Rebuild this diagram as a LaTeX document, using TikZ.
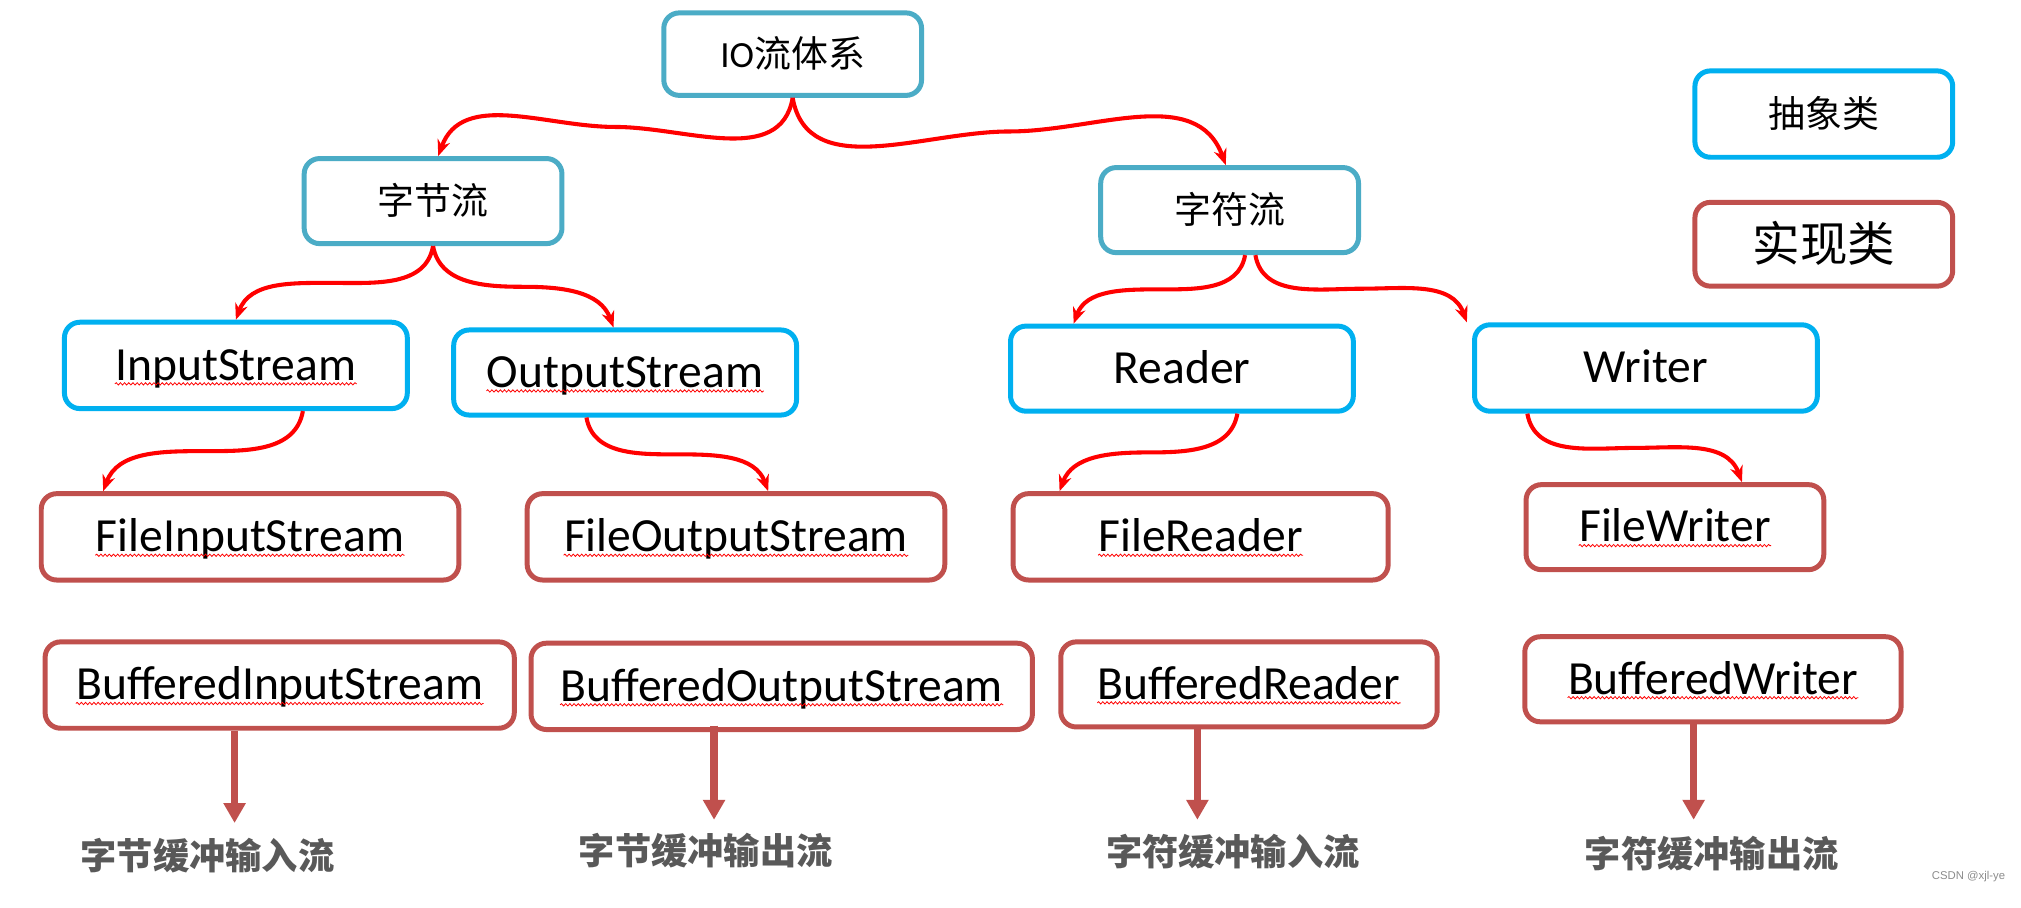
\documentclass[tikz,border=0pt]{standalone}
\usepackage{fontspec}
\setmainfont{Carlito}
\newfontfamily\cjk{Noto Sans CJK SC}
\newfontfamily\wmfont{Liberation Sans}
\usetikzlibrary{arrows.meta,calc,decorations.pathmorphing}
\definecolor{topc}{HTML}{4BACC6}
\definecolor{absc}{HTML}{00B0F0}
\definecolor{implc}{HTML}{C0504D}
\definecolor{arrc}{HTML}{FF0000}
\definecolor{labc}{HTML}{595959}
\definecolor{wmc}{HTML}{8C8C8C}
\tikzset{
  bx/.style 2 args={draw, line width=2.2pt, rounded corners=0.24cm, fill=white, inner sep=0pt,
    minimum width=#1*0.02cm, minimum height=#2*0.02cm},
  topbox/.style={draw=topc},
  absbox/.style={draw=absc},
  implbox/.style={draw=implc},
  lat/.style={inner sep=0pt, anchor=base, font=\fontsize{21pt}{25pt}\selectfont},
  cj/.style={inner sep=0pt, anchor=base, font=\cjk\fontsize{16.3pt}{20pt}\selectfont},
  cjbig/.style={inner sep=0pt, anchor=base, font=\cjk\fontsize{21pt}{25pt}\selectfont},
  lab/.style={inner sep=0pt, anchor=base, text=labc, font=\cjk\bfseries\fontsize{16pt}{20pt}\selectfont},
  rarr/.style={draw=arrc, line width=1.8pt, -{Stealth[length=0.25cm, width=0.2cm]}},
  barr/.style={draw=implc, line width=3.4pt, -{Triangle[length=0.31cm, width=0.33cm]}},
  squig/.style={draw=arrc, line width=0.35pt, decorate,
    decoration={snake, segment length=0.065cm, amplitude=0.018cm}},
}
\begin{document}
\begin{tikzpicture}[x=0.02cm, y=0.02cm]
\fill[white] (0,0) rectangle (1568,-703.7);
\useasboundingbox (0,0) rectangle (1568,-703.7);

% boxes
\node[bx={200}{64}, topbox] (io) at (615,-42) {};
\node[bx={200}{67}, absbox] (abs) at (1415,-88.5) {};
\node[bx={200}{65}, implbox] (impl) at (1415,-189.5) {};
\node[bx={200}{66}, topbox] (byte) at (336,-156) {};
\node[bx={200}{66}, topbox] (char) at (954,-163) {};
\node[bx={266}{67}, absbox] (is) at (183,-283.5) {};
\node[bx={266}{66}, absbox] (os) at (485,-289) {};
\node[bx={266}{66}, absbox] (rd) at (917,-286) {};
\node[bx={266}{67}, absbox] (wr) at (1277,-285.5) {};
\node[bx={324}{67}, implbox] (fis) at (194,-416.5) {};
\node[bx={324}{67}, implbox] (fos) at (571,-416.5) {};
\node[bx={291}{67}, implbox] (fr) at (931.5,-416.5) {};
\node[bx={231}{66}, implbox] (fw) at (1299.5,-409) {};
\node[bx={364}{67}, implbox] (bis) at (217,-531.5) {};
\node[bx={389}{67}, implbox] (bos) at (606.5,-532.5) {};
\node[bx={292}{66}, implbox] (br) at (969,-531) {};
\node[bx={292}{66}, implbox] (bw) at (1329,-527) {};

% texts
\node[cj] (iot) at ($(io.center)+(0,-10.5)$) {{\fontspec{Carlito}IO}流体系};
\node[cj] (abst) at ($(abs.center)+(0,-10.5)$) {抽象类};
\node[cjbig] (implt) at ($(impl.center)+(0,-13.5)$) {实现类};
\node[cj] (bytet) at ($(byte.center)+(0,-10.5)$) {字节流};
\node[cj] (chart) at ($(char.center)+(0,-10.5)$) {字符流};
\node[lat] (ist) at ($(is.center)+(0,-11.5)$) {InputStream};
\node[lat] (ost) at ($(os.center)+(0,-11.5)$) {OutputStream};
\node[lat] (rdt) at ($(rd.center)+(0,-11.5)$) {Reader};
\node[lat] (wrt) at ($(wr.center)+(0,-11.5)$) {Writer};
\node[lat] (fist) at ($(fis.center)+(0,-11.5)$) {FileInputStream};
\node[lat] (fost) at ($(fos.center)+(0,-11.5)$) {FileOutputStream};
\node[lat] (frt) at ($(fr.center)+(0,-11.5)$) {FileReader};
\node[lat] (fwt) at ($(fw.center)+(0,-11.5)$) {FileWriter};
\node[lat] (bist) at ($(bis.center)+(0,-11.5)$) {BufferedInputStream};
\node[lat] (bost) at ($(bos.center)+(0,-11.5)$) {BufferedOutputStream};
\node[lat] (brt) at ($(br.center)+(0,-11.5)$) {BufferedReader};
\node[lat] (bwt) at ($(bw.center)+(0,-11.5)$) {BufferedWriter};

% squiggly underlines
\foreach \t in {ist,ost,fist,fost,frt,fwt,bist,bost,brt,bwt}{
  \draw[squig] ($(\t.base west)+(0,-2.8)$) -- ($(\t.base east)+(0,-2.8)$);
}

% bottom labels
\node[lab] (l1) at (161,-674.5) {字节缓冲输入流};
\node[lab] (l2) at (547.5,-671) {字节缓冲输出流};
\node[lab] (l3) at (956.5,-671.5) {字符缓冲输入流};
\node[lab] (l4) at (1328,-673) {字符缓冲输出流};

\node[inner sep=0pt, anchor=east, text=wmc, font=\wmfont\fontsize{5pt}{6pt}\selectfont] (wm) at (1556,-680) {CSDN @xjl-ye};

% curved connector end points
\coordinate (s1) at (io.south);
\coordinate (t1) at ($(byte.north)+(4,0)$);
\coordinate (t2) at ($(char.north)+(-3,0)$);
\coordinate (s3) at (byte.south);
\coordinate (t3) at (is.north);
\coordinate (t4) at ($(os.north)+(-9,0)$);
\coordinate (s5) at ($(char.south)+(12,0)$);
\coordinate (t5) at ($(rd.north)+(-84,0)$);
\coordinate (s6) at ($(char.south)+(20,0)$);
\coordinate (t6) at ($(wr.north west)+(-4,0)$);
\coordinate (s7) at ($(is.south)+(52,0)$);
\coordinate (t7) at ($(fis.north west)+(50,0)$);
\coordinate (s8) at ($(os.south)+(-30,0)$);
\coordinate (t8) at ($(fos.north)+(25,0)$);
\coordinate (s9) at ($(rd.south)+(43,0)$);
\coordinate (t9) at ($(fr.north west)+(38,0)$);
\coordinate (s10) at ($(wr.south)+(-92,0)$);
\coordinate (t10) at ($(fw.north)+(52,0)$);

% leftward S-curves
\foreach \s/\t in {s1/t1, s3/t3, s5/t5, s7/t7, s9/t9}{
  \draw[rarr] (\s) to[out=-100,in=0] ($(\s)!0.5!(\t)$) to[out=180,in=70] (\t);
}
% rightward S-curves
\foreach \s/\t in {s1/t2, s3/t4, s6/t6, s8/t8, s10/t10}{
  \draw[rarr] (\s) to[out=-80,in=180] ($(\s)!0.5!(\t)$) to[out=0,in=110] (\t);
}

% straight arrows to labels
\coordinate (e1) at (182,-638.5);
\coordinate (e2) at (554,-636);
\coordinate (e3) at (929,-636);
\coordinate (e4) at (1314,-636);
\draw[barr] (bis.south -| e1) -- (e1);
\draw[barr] ($(bos.south -| e2)+(0,5)$) -- (e2);
\draw[barr] ($(br.south -| e3)+(0,3)$) -- (e3);
\draw[barr] (bw.south -| e4) -- (e4);
\end{tikzpicture}
\end{document}
